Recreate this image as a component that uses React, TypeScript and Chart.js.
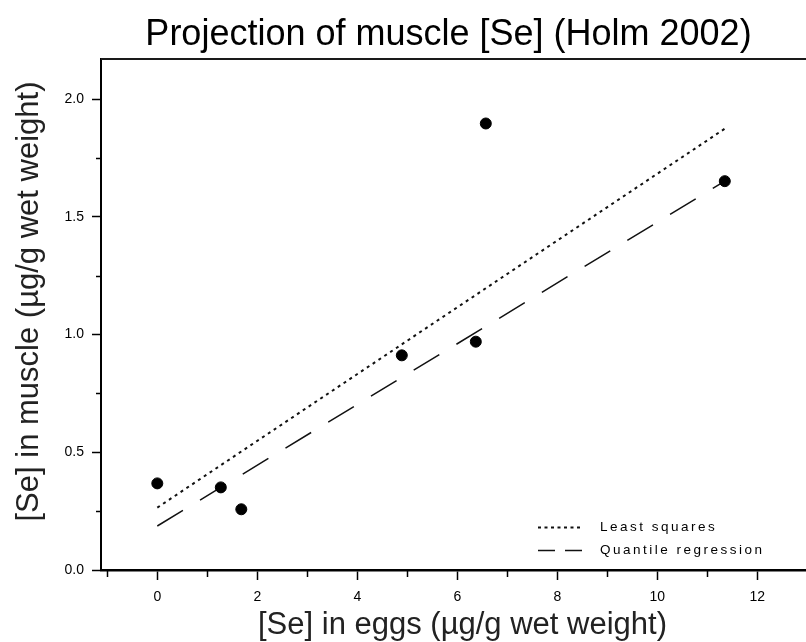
import React, { useEffect, useRef } from "react";
import { Chart, registerables } from "chart.js";

Chart.register(...registerables);

// ---- data ----
const eggSe = [0, 1.27, 1.68, 4.89, 6.37, 6.57, 11.35];
const muscleSe = [0.368, 0.351, 0.258, 0.912, 0.97, 1.897, 1.652];

const leastSquaresX = [0, 11.35];
const leastSquaresY = [0.265, 1.875];

const quantileX = [0, 11.35];
const quantileY = [0.187, 1.652];

const xMajorTicks = [0, 2, 4, 6, 8, 10, 12];
const yMajorTicks = [0, 0.5, 1.0, 1.5, 2.0];

const seriesLabels = ["Least squares", "Quantile regression"];
const chartTitle = "Projection of muscle [Se] (Holm 2002)";
const xTitle = "[Se] in eggs (\u00b5g/g wet weight)";
const yTitle = "[Se] in muscle (\u00b5g/g wet weight)";

const FONT = '"Liberation Sans", Arial, sans-serif';

const isMajor = (v: number, list: number[]) => list.some((m) => Math.abs(m - v) < 1e-6);

const decorPlugin = {
  id: "decor",
  afterDraw(chart: any) {
    const { ctx, chartArea: ca, scales } = chart;
    const xs = scales.x;
    const ys = scales.y;
    ctx.save();
    // top frame line
    ctx.strokeStyle = "#1a1a1a";
    ctx.lineWidth = 2;
    ctx.beginPath();
    ctx.moveTo(ca.left, ca.top);
    ctx.lineTo(ca.right, ca.top);
    ctx.stroke();

    // minor ticks
    ctx.lineWidth = 1.5;
    ctx.strokeStyle = "#000";
    xs.ticks.forEach((t: any) => {
      if (!isMajor(t.value, xMajorTicks)) {
        const px = Math.round(xs.getPixelForValue(t.value)) + 0.5;
        ctx.beginPath();
        ctx.moveTo(px, ca.bottom);
        ctx.lineTo(px, ca.bottom + 7);
        ctx.stroke();
      }
    });
    ys.ticks.forEach((t: any) => {
      if (!isMajor(t.value, yMajorTicks)) {
        const py = Math.round(ys.getPixelForValue(t.value)) + 0.5;
        ctx.beginPath();
        ctx.moveTo(ca.left, py);
        ctx.lineTo(ca.left - 5, py);
        ctx.stroke();
      }
    });

    // chart title
    ctx.fillStyle = "#000";
    ctx.font = `36px ${FONT}`;
    ctx.textAlign = "center";
    ctx.textBaseline = "alphabetic";
    ctx.fillText(chartTitle, (ca.left + ca.right) / 2 - 5, 45);

    // axis titles
    ctx.fillStyle = "#222";
    ctx.font = `31px ${FONT}`;
    ctx.fillText(xTitle, (ca.left + ca.right) / 2 + 9, 634);
    ctx.save();
    ctx.translate(38, (ca.top + ca.bottom) / 2 - 13);
    ctx.rotate(-Math.PI / 2);
    ctx.fillText(yTitle, 0, 0);
    ctx.restore();

    // legend
    const lineDs = [chart.data.datasets[1], chart.data.datasets[2]];
    const legendY = [ca.bottom - 43, ca.bottom - 20];
    ctx.font = `13.5px ${FONT}`;
    ctx.textAlign = "left";
    ctx.textBaseline = "middle";
    lineDs.forEach((ds: any, i: number) => {
      const y = Math.round(legendY[i]) + 0.5;
      ctx.save();
      ctx.strokeStyle = ds.borderColor;
      ctx.lineWidth = ds.borderWidth;
      ctx.setLineDash(ds.legendDash);
      ctx.beginPath();
      ctx.moveTo(538, y);
      ctx.lineTo(582, y);
      ctx.stroke();
      ctx.restore();
      ctx.save();
      ctx.fillStyle = "#000";
      (ctx as any).letterSpacing = "2.5px";
      ctx.fillText(ds.label, 600, y);
      ctx.restore();
    });
    ctx.restore();
  },
};

export default function App() {
  const canvasRef = useRef<HTMLCanvasElement | null>(null);

  useEffect(() => {
    document.body.style.margin = "0";
    const canvas = canvasRef.current;
    if (!canvas) return;
    const chart = new Chart(canvas, {
      type: "scatter",
      data: {
        datasets: [
          {
            label: "Data",
            data: eggSe.map((x, i) => ({ x, y: muscleSe[i] })),
            backgroundColor: "#000",
            borderColor: "#000",
            pointRadius: 5.5,
            pointHoverRadius: 5.5,
            order: 0,
          },
          {
            label: seriesLabels[0],
            data: leastSquaresX.map((x, i) => ({ x, y: leastSquaresY[i] })),
            showLine: true,
            borderColor: "#111",
            borderWidth: 2,
            borderDash: [3, 4],
            pointRadius: 0,
            legendDash: [3, 3.5],
            order: 1,
          } as any,
          {
            label: seriesLabels[1],
            data: quantileX.map((x, i) => ({ x, y: quantileY[i] })),
            showLine: true,
            borderColor: "#111",
            borderWidth: 1.5,
            borderDash: [30, 20],
            pointRadius: 0,
            legendDash: [17, 10],
            order: 2,
          } as any,
        ],
      },
      options: {
        responsive: false,
        animation: false,
        devicePixelRatio: 1,
        layout: { autoPadding: false, padding: { top: 59, right: 0, bottom: 0, left: 0 } },
        plugins: {
          legend: { display: false },
          title: { display: false },
          tooltip: { enabled: false },
        },
        scales: {
          x: {
            type: "linear",
            min: -1.126,
            max: 12.974,
            afterFit: (s: any) => {
              s.height = 72;
              s.paddingLeft = 0;
              s.paddingRight = 0;
            },
            border: { display: true, color: "#000", width: 2.5 },
            grid: {
              drawOnChartArea: false,
              drawTicks: true,
              tickLength: 10,
              tickWidth: 1.5,
              tickColor: (c: any) =>
                c.tick && isMajor(c.tick.value, xMajorTicks) ? "#000" : "rgba(0,0,0,0)",
            },
            ticks: {
              stepSize: 1,
              includeBounds: false,
              autoSkip: false,
              maxRotation: 0,
              padding: 9,
              color: "#000",
              font: { family: FONT, size: 14 },
              callback: (v: any) => (isMajor(Number(v), xMajorTicks) ? String(v) : ""),
            },
          },
          y: {
            type: "linear",
            min: 0,
            max: 2.171,
            afterFit: (s: any) => {
              s.width = 101;
              s.paddingTop = 0;
              s.paddingBottom = 0;
            },
            border: { display: true, color: "#000", width: 2 },
            grid: {
              drawOnChartArea: false,
              drawTicks: true,
              tickLength: 9,
              tickWidth: 1.5,
              tickColor: (c: any) =>
                c.tick && isMajor(c.tick.value, yMajorTicks) ? "#000" : "rgba(0,0,0,0)",
            },
            ticks: {
              stepSize: 0.25,
              includeBounds: false,
              autoSkip: false,
              padding: 8,
              color: "#000",
              font: { family: FONT, size: 14 },
              callback: (v: any) =>
                isMajor(Number(v), yMajorTicks) ? Number(v).toFixed(1) : "",
            },
          },
        },
      },
      plugins: [decorPlugin],
    });
    return () => chart.destroy();
  }, []);

  return (
    <div style={{ width: 806, height: 642 }}>
      <canvas ref={canvasRef} width={806} height={642} style={{ display: "block" }} />
    </div>
  );
}
